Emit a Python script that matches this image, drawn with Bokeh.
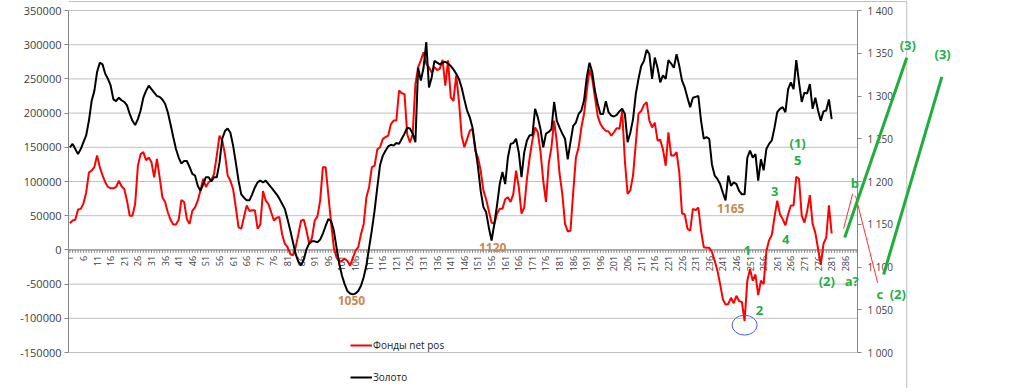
from math import pi
from bokeh.plotting import figure
from bokeh.models import (Range1d, LinearAxis, FixedTicker, NumeralTickFormatter,
                          Legend, LegendItem, Label, Arrow)
from bokeh.embed import file_html
from bokeh.resources import INLINE
from bokeh.core.properties import value

# ---------------- data ----------------
categories = list(range(1, 282))
all_categories = list(range(1, 291))
tick_labels = list(range(1, 291, 5))

funds_net_pos_k = [
    39, 43, 44, 59, 60, 68, 84, 113, 116, 121,
    138, 121, 109, 99, 92, 90, 90, 92, 101, 93,
    89, 72, 50, 50, 67, 123, 140, 143, 131, 135,
    128, 106, 133, 106, 77, 70, 55, 44, 37, 37,
    44, 73, 70, 45, 38, 57, 62, 72, 87, 104,
    92, 99, 102, 111, 138, 167, 160, 140, 109, 101,
    89, 62, 33, 31, 48, 65, 57, 58, 58, 31,
    37, 86, 72, 67, 55, 43, 47, 48, 23, 9,
    4, -6, -8, 4, 23, 43, 44, 28, 8, 18,
    43, 49, 72, 121, 121, 81, 40, 4, -11, -17,
    -16, -13, -16, -23, -12, -1, 4, 23, 38, 77,
    92, 121, 123, 147, 150, 162, 165, 167, 184, 189,
    189, 233, 229, 228, 169, 157, 169, 242, 267, 277,
    289, 272, 267, 259, 267, 263, 265, 278, 240, 277,
    223, 218, 255, 218, 167, 150, 162, 174, 177, 145,
    135, 116, 87, 74, 57, 40, 38, 53, 60, 60,
    74, 77, 70, 82, 116, 92, 53, 62, 104, 135,
    160, 179, 172, 143, 101, 70, 126, 150, 189, 157,
    111, 82, 38, 27, 28, 84, 135, 150, 179, 199,
    233, 264, 250, 223, 196, 184, 178, 174, 173, 167,
    172, 178, 177, 203, 130, 82, 87, 109, 155, 199,
    203, 212, 216, 189, 179, 186, 160, 161, 147, 123,
    172, 138, 138, 143, 113, 53, 52, 31, 28, 60,
    58, 62, 28, 4, 3, 3, -3, -16, -30, -50,
    -72, -80, -79, -70, -78, -67, -75, -76, -104, -45,
    -28, -45, -36, -66, -45, -50, -2, 14, 22, 48,
    72, 52, 45, 36, 52, 65, 65, 107, 104, 50,
    40, 57, 80, 38, 25, 2, -22, 9, 18, 65, 24,
]
funds_net_pos = [v * 1000 for v in funds_net_pos_k]

gold = [
    1240, 1244, 1238, 1232, 1238, 1246, 1254, 1271, 1294, 1306,
    1328, 1339, 1337, 1326, 1320, 1312, 1296, 1294, 1298, 1295,
    1293, 1289, 1279, 1271, 1266, 1273, 1283, 1298, 1306, 1312,
    1308, 1304, 1300, 1299, 1296, 1291, 1281, 1267, 1252, 1238,
    1228, 1221, 1224, 1224, 1217, 1209, 1207, 1195, 1189, 1197,
    1205, 1205, 1200, 1205, 1205, 1222, 1250, 1259, 1262, 1257,
    1242, 1222, 1201, 1185, 1181, 1178, 1178, 1185, 1193, 1199,
    1201, 1199, 1201, 1197, 1193, 1189, 1185, 1180, 1174, 1168,
    1156, 1143, 1129, 1115, 1106, 1102, 1109, 1121, 1128, 1130,
    1130, 1129, 1132, 1139, 1148, 1156, 1154, 1143, 1123, 1104,
    1090, 1080, 1072, 1069, 1068, 1069, 1072, 1078, 1088, 1102,
    1123, 1143, 1166, 1193, 1219, 1230, 1236, 1241, 1243, 1242,
    1245, 1244, 1250, 1256, 1263, 1262, 1256, 1246, 1333, 1318,
    1333, 1363, 1310, 1322, 1341, 1339, 1337, 1339, 1340, 1338,
    1335, 1331, 1326, 1320, 1310, 1296, 1283, 1275, 1263, 1240,
    1217, 1189, 1170, 1164, 1146, 1131, 1150, 1172, 1197, 1211,
    1197, 1228, 1244, 1245, 1250, 1234, 1205, 1234, 1248, 1254,
    1254, 1285, 1275, 1261, 1240, 1256, 1258, 1261, 1293, 1271,
    1263, 1256, 1250, 1226, 1246, 1265, 1269, 1279, 1283, 1295,
    1322, 1339, 1328, 1306, 1291, 1279, 1279, 1294, 1281, 1277,
    1276, 1278, 1282, 1285, 1279, 1246, 1257, 1273, 1302, 1320,
    1335, 1341, 1354, 1349, 1320, 1345, 1333, 1316, 1324, 1320,
    1342, 1338, 1333, 1349, 1335, 1318, 1310, 1298, 1287, 1298,
    1299, 1300, 1271, 1250, 1252, 1250, 1220, 1207, 1203, 1197,
    1187, 1178, 1207, 1195, 1199, 1197, 1189, 1185, 1185, 1228,
    1236, 1228, 1232, 1201, 1226, 1213, 1238, 1244, 1248, 1263,
    1281, 1285, 1287, 1281, 1308, 1316, 1308, 1342, 1316, 1293,
    1304, 1303, 1314, 1285, 1298, 1283, 1271, 1282, 1283, 1296, 1273,
]

left_min, left_max = -150000, 350000
right_min, right_max = 1000, 1400
left_ticks = list(range(left_min, left_max + 1, 50000))
right_ticks = list(range(right_min, right_max + 1, 50))
right_tick_text = {t: f"{t // 1000} {t % 1000:03d}" for t in right_ticks}

# annotations (x in category units, y in left-axis units)
green_lines = [((285.8, 18000), (308.6, 281000)), ((300.1, -36000), (321.5, 253000))]
red_thin_lines = [((285.4, 31000), (288.7, 82000)), ((289.8, 79000), (297.9, -48000))]
green_texts = [("(3)", 309.0, 300000), ("(3)", 321.8, 286000), ("(1)", 268.5, 156000),
               ("5", 268.5, 131000), ("3", 260.1, 85000), ("4", 264.1, 15000),
               ("1", 250.1, -1000), ("2", 254.5, -89000), ("(2)", 279.2, -46000),
               ("a?", 288.4, -46000), ("b", 289.5, 98000), ("c", 298.7, -64000),
               ("(2)", 305.3, -64000)]
brown_texts = [("1050", 104.5, -74000), ("1120", 156.4, 3500), ("1165", 243.9, 60500)]
chart_border_x = 308.6

FONT = "Open Sans"
AX_COLOR = "#868686"
LBL_COLOR = "#404040"

# layout: plot area 789 x 342 px, placed 68 px from left and 10 px from top
PX_X = 290 / 789.0                     # categories per pixel
PX_Y = (left_max - left_min) / 342.0   # left units per pixel
PX_R = (right_max - right_min) / 342.0
FRAME_W, FRAME_H = 900, 388
TOP_PAD = 10
x_lo = 0.5
x_hi = x_lo + FRAME_W * PX_X
y_hi = left_max + TOP_PAD * PX_Y
y_lo = y_hi - FRAME_H * PX_Y
r_hi = right_max + TOP_PAD * PX_R
r_lo = r_hi - FRAME_H * PX_R
cat_end = 290.5

p = figure(frame_width=FRAME_W, frame_height=FRAME_H, output_backend="svg",
           toolbar_location=None, x_range=Range1d(x_lo, x_hi), y_range=Range1d(y_lo, y_hi),
           x_axis_type=None, min_border_left=68, min_border_right=40,
           min_border_top=0, min_border_bottom=0, outline_line_color=None,
           background_fill_color="white", border_fill_color="white")
p.extra_y_ranges = {"gold": Range1d(r_lo, r_hi)}
p.ygrid.grid_line_color = None

# horizontal gridlines limited to the plot area
p.segment(x0=[x_lo] * len(left_ticks), x1=[cat_end] * len(left_ticks),
          y0=left_ticks, y1=left_ticks, line_color="#c0c0c0", line_width=1)

# left axis
ya = p.yaxis[0]
ya.ticker = FixedTicker(ticks=left_ticks)
ya.formatter = NumeralTickFormatter(format="0")
ya.bounds = (left_min, left_max)
ya.major_tick_out = 4
ya.major_tick_in = 0
ya.minor_tick_out = 0
ya.minor_tick_in = 0
ya.major_label_standoff = 3
ya.axis_line_color = AX_COLOR
ya.major_tick_line_color = AX_COLOR
ya.major_label_text_font = FONT
ya.major_label_text_font_size = "11px"
ya.major_label_text_color = LBL_COLOR

# right axis, fixed at the end of the categories
ra = LinearAxis(y_range_name="gold", ticker=FixedTicker(ticks=right_ticks),
                major_label_overrides=right_tick_text, fixed_location=cat_end,
                bounds=(right_min, right_max))
ra.major_tick_out = 4
ra.major_tick_in = 0
ra.minor_tick_out = 0
ra.minor_tick_in = 0
ra.major_label_standoff = 6
ra.axis_line_color = AX_COLOR
ra.major_tick_line_color = AX_COLOR
ra.major_label_text_font = FONT
ra.major_label_text_font_size = "10px"
ra.major_label_text_color = LBL_COLOR
p.add_layout(ra, "right")

# category axis crossing at zero
p.segment(x0=[x_lo], x1=[cat_end], y0=[0], y1=[0], line_color=AX_COLOR, line_width=1)
p.segment(x0=all_categories, x1=all_categories, y0=[0] * len(all_categories),
          y1=[-3 * PX_Y] * len(all_categories), line_color=AX_COLOR, line_width=1)
p.text(x=tick_labels, y=[0] * len(tick_labels), text=[str(t) for t in tick_labels],
       angle=pi / 2, text_align="right", text_baseline="middle", y_offset=6,
       text_font=value(FONT), text_font_size=value("9px"), text_color=LBL_COLOR)

r_red = p.line(categories, funds_net_pos, line_color="#ff0000", line_width=2)
r_blk = p.line(categories, gold, line_color="#000000", line_width=2, y_range_name="gold")

# blue circle around the funds minimum
i_min = funds_net_pos.index(min(funds_net_pos))
p.ellipse(x=categories[i_min], y=funds_net_pos[i_min] - 6000, width=9.2, height=29000,
          fill_color=None, line_color="#4a5cf0", line_width=1)

# chart-area border (right and top edges)
p.segment(x0=[chart_border_x, x_lo], x1=[chart_border_x, chart_border_x],
          y0=[y_hi, y_hi - 1 * PX_Y], y1=[y_lo, y_hi - 1 * PX_Y],
          line_color="#bfbfbf", line_width=1)

for (x0, y0), (x1, y1) in red_thin_lines:
    p.add_layout(Arrow(end=None, x_start=x0, y_start=y0, x_end=x1, y_end=y1,
                       line_color="#ff3030", line_width=1))
for (x0, y0), (x1, y1) in green_lines:
    p.add_layout(Arrow(end=None, x_start=x0, y_start=y0, x_end=x1, y_end=y1,
                       line_color="#1fae3c", line_width=3))

for t, x, y in green_texts:
    p.add_layout(Label(x=x, y=y, text=t, text_align="center", text_baseline="middle",
                       text_font=FONT, text_font_size="13px", text_font_style="bold",
                       text_color="#22b04a"))
for t, x, y in brown_texts:
    p.add_layout(Label(x=x, y=y, text=t, text_align="center", text_baseline="middle",
                       text_font=FONT, text_font_size="12px", text_font_style="bold",
                       text_color="#c48a58"))

legend = Legend(items=[LegendItem(label="Фонды net pos", renderers=[r_red]),
                       LegendItem(label="Золото", renderers=[r_blk])],
                location=(282, 4), orientation="vertical", padding=0, margin=0,
                spacing=18, glyph_width=22, glyph_height=14, label_height=14,
                label_width=60, label_standoff=1, label_text_font=FONT,
                label_text_font_size="10px", label_text_color="#222222",
                border_line_color=None, background_fill_alpha=0)
p.add_layout(legend)

open("out.html", "w").write(file_html(p, INLINE))
